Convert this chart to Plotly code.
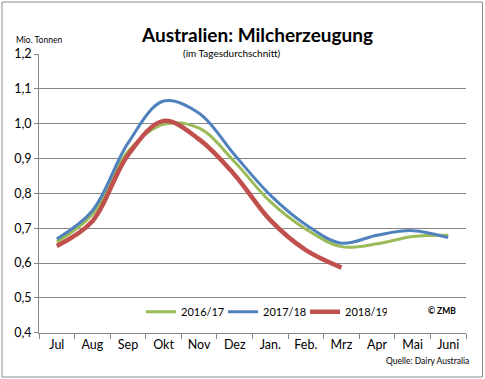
import plotly.graph_objects as go

months = ["Jul", "Aug", "Sep", "Okt", "Nov", "Dez", "Jan.", "Feb.", "Mrz", "Apr", "Mai", "Juni"]
s2016 = [0.66, 0.74, 0.92, 0.998, 0.987, 0.89, 0.776, 0.697, 0.647, 0.655, 0.676, 0.68]
s2017 = [0.669, 0.75, 0.944, 1.065, 1.03, 0.91, 0.795, 0.71, 0.657, 0.68, 0.693, 0.673]
s2018 = [0.649, 0.72, 0.91, 1.008, 0.955, 0.853, 0.723, 0.637, 0.587]

W, H = 485, 379
def px(x): return x / W
def py(y): return 1 - y / H

fig = go.Figure()
fig.add_trace(go.Scatter(x=months, y=s2016, name="2016/17", mode="lines",
                         line=dict(color="#9BBB59", width=3, shape="spline", smoothing=1)))
fig.add_trace(go.Scatter(x=months, y=s2017, name="2017/18", mode="lines",
                         line=dict(color="#4F81BD", width=3, shape="spline", smoothing=1)))
fig.add_trace(go.Scatter(x=months[:len(s2018)], y=s2018, name="2018/19", mode="lines",
                         line=dict(color="#C0504D", width=4.5, shape="spline", smoothing=1)))

font = "Lato, 'Open Sans', sans-serif"
fig.update_layout(
    width=W, height=H,
    margin=dict(l=0, r=0, t=0, b=0, autoexpand=False),
    paper_bgcolor="white", plot_bgcolor="white",
    separators=",.",
    font=dict(family=font, color="#000000", size=12),
    showlegend=True,
    legend=dict(orientation="h", x=px(141), y=py(311.7), xanchor="left", yanchor="middle",
                entrywidth=37, entrywidthmode="pixels", font=dict(size=11, family=font),
                bgcolor="rgba(0,0,0,0)", tracegroupgap=0),
    xaxis=dict(domain=[px(39), px(466)], type="category", categoryorder="array",
               categoryarray=months, tickson="boundaries", ticks="outside", ticklen=5,
               tickcolor="#868686", showline=True, linecolor="#868686", linewidth=1,
               showgrid=False, tickfont=dict(size=12.5), range=[-0.5, 11.5]),
    yaxis=dict(domain=[py(332.7), py(54)], range=[0.4, 1.2], dtick=0.1, tickformat=".1f",
               ticks="outside", ticklen=4, tickcolor="#868686", showline=True,
               linecolor="#868686", linewidth=1, showgrid=True, gridcolor="#868686",
               gridwidth=1, zeroline=False, tickfont=dict(size=12.5)),
    shapes=[dict(type="rect", xref="paper", yref="paper", x0=px(2), x1=px(482.5),
                 y0=py(377), y1=py(2), line=dict(color="#8c8c8c", width=1))],
    annotations=[
        dict(text="<b>Australien: Milcherzeugung</b>", x=px(257), y=py(21), xref="paper", yref="paper",
             showarrow=False, font=dict(size=19, family=font)),
        dict(text="(im Tagesdurchschnitt)", x=px(231), y=py(44.5), xref="paper", yref="paper",
             showarrow=False, font=dict(size=10, family=font)),
        dict(text="Mio. Tonnen", x=px(14), y=py(33), xref="paper", yref="paper", xanchor="left",
             showarrow=False, font=dict(size=8.5, family=font)),
        dict(text="<b>© ZMB</b>", x=px(458), y=py(318), xref="paper", yref="paper", xanchor="right",
             showarrow=False, font=dict(size=8.5, family=font)),
        dict(text="Quelle: Dairy Australia", x=px(471), y=py(368), xref="paper", yref="paper",
             xanchor="right", showarrow=False, font=dict(size=8.5, family=font)),
    ],
)
fig.write_html("out.html", config={"displayModeBar": False},
               post_script="document.body.style.margin='0';document.body.style.overflow='hidden';")
